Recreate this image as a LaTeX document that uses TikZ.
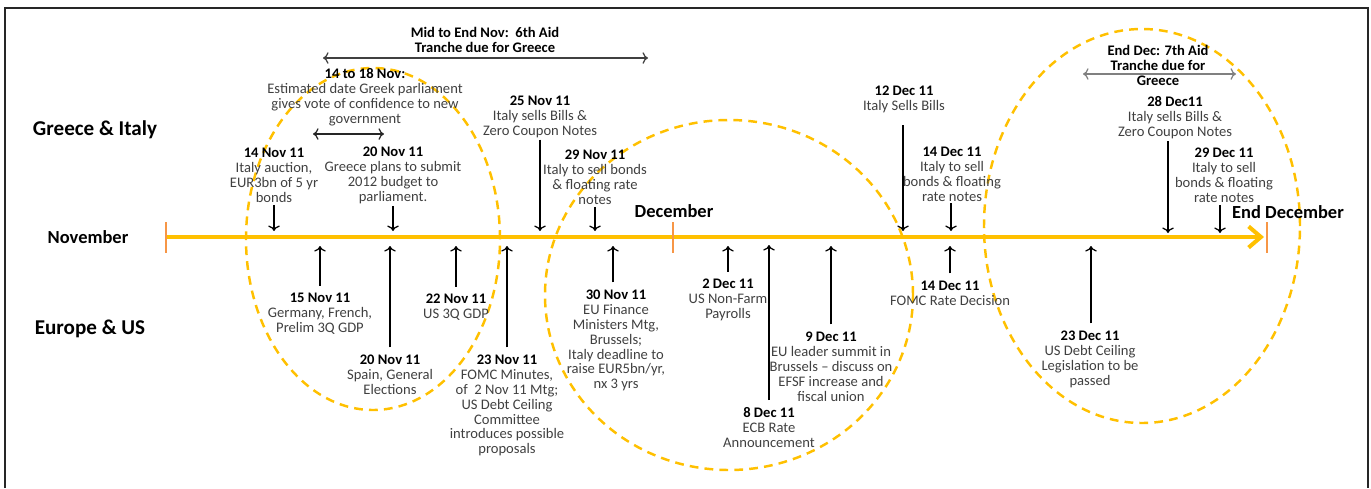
\documentclass[tikz,border=0pt]{standalone}
\usepackage{fontspec}
\setmainfont{Carlito}
\usetikzlibrary{arrows.meta}

\definecolor{tlyellow}{HTML}{FFC000}
\definecolor{tlorange}{HTML}{F79646}
\newcommand{\evfont}{\fontsize{8.3}{8.5}\selectfont}
\newcommand{\evday}[1]{\textcolor{black}{\textbf{#1}}}

\tikzset{
  evt/.style={align=center,font=\evfont,text=black!75,inner sep=1pt},
  aid/.style={align=center,font=\evfont\bfseries,inner sep=1pt},
  hdr/.style={font=\fontsize{12}{14}\selectfont\bfseries},
  mon/.style={font=\fontsize{10.5}{12}\selectfont\bfseries},
  evarrow/.style={->,line width=0.7pt},
  uparrow/.style={->,line width=0.7pt,shorten <=3pt},
  span/.style={<->,line width=0.7pt},
  zone/.style={draw=tlyellow,line width=1.4pt,dash pattern=on 5pt off 3.5pt},
  tick/.style={draw=tlorange,line width=1.1pt},
}

\begin{document}
\begin{tikzpicture}[x=0.2mm,y=-0.2mm]
\useasboundingbox (0,0) rectangle (1371,488);
\draw [line width=1.1pt,black!85] (5,488) -- (5,8) -- (1368,8) -- (1368,488);

% dashed zones
\draw [zone] (373,239)  ellipse [x radius=25.4mm, y radius=34.2mm];
\draw [zone] (729,295)  ellipse [x radius=36.8mm, y radius=35mm];
\draw [zone] (1142,226) ellipse [x radius=31.6mm, y radius=39.4mm];

% timeline
\coordinate (tl0) at (166,237);
\coordinate (tl1) at (1264,237);
\draw [draw=tlyellow,line width=2.3pt,-{Straight Barb[length=7pt,width=12pt]}] (tl0) -- (tl1);
\foreach \x in {166,673,1267}
  \draw [tick] (\x,222) -- (\x,253);

% row titles
\node (greece)   at (95,130)   [hdr] {Greece \& Italy};
\node (novem)    at (88,237)   [mon] {November};
\node (europe)   at (90,329)   [hdr] {Europe \& US};
\node (decem)    at (674,211)  [mon] {December};
\node (enddecem) at (1288,212) [mon] {End December};

% aid tranches
\node (aid6) at (485,40)    [aid] {Mid to End Nov:~~6th Aid\\Tranche due for Greece};
\node (aid7) at (1158,65.5) [aid] {End Dec: 7th Aid\\Tranche due for\\Greece};
\coordinate (aid6l) at (323,58);
\coordinate (aid6r) at (648,58);
\coordinate (aid7l) at (1083,74);
\coordinate (aid7r) at (1236,74);
\draw [span,black!75] (aid6l) -- (aid6r);
\draw [span,black!50] (aid7l) -- (aid7r);

\node (vote) at (365,97) [evt] {\evday{14 to 18 Nov:}\\Estimated date Greek parliament\\gives vote of confidence to new\\government};
\coordinate (votel) at (313,134);
\coordinate (voter) at (384,134);
\draw [span,black!85] (votel) -- (voter);

% Greece & Italy events
\node (g14n) at (274,175.5) [evt] {\evday{14 Nov 11}\\Italy auction,\\EUR3bn of 5 yr\\bonds};
\node (g20n) at (393,175.5) [evt] {\evday{20 Nov 11}\\Greece plans to submit\\2012 budget to\\parliament.};
\node (g25n) at (540,116.5) [evt] {\evday{25 Nov 11}\\Italy sells Bills \&\\Zero Coupon Notes};
\node (g29n) at (595,177.5) [evt] {\evday{29 Nov 11}\\Italy to sell bonds\\\& floating rate\\notes};
\node (g12d) at (904,99)    [evt] {\evday{12 Dec 11}\\Italy Sells Bills};
\node (g14d) at (952,174)   [evt] {\evday{14 Dec 11}\\Italy to sell\\bonds \& floating\\rate notes};
\node (g28d) at (1175,118)  [evt] {\evday{28 Dec11}\\Italy sells Bills \&\\Zero Coupon Notes};
\node (g29d) at (1224,175.5) [evt] {\evday{29 Dec 11}\\Italy to sell\\bonds \& floating\\rate notes};

\coordinate (t14n) at (274,231);
\coordinate (t20n) at (393,231);
\coordinate (t25n) at (540,231);
\coordinate (t29n) at (595,231);
\coordinate (t12d) at (903,231);
\coordinate (t14d) at (951,231);
\coordinate (t28d) at (1168,233);
\coordinate (t29d) at (1220,233);

\draw [evarrow] (g14n) -- (t14n);
\draw [evarrow] (g20n) -- (t20n);
\draw [evarrow] (g25n) -- (t25n);
\draw [evarrow] (g29n) -- (t29n);
\draw [evarrow,shorten <=6pt] (g12d.south -| t12d) -- (t12d);
\draw [evarrow] (g14d.south -| t14d) -- (t14d);
\draw [evarrow] (g28d.south -| t28d) -- (t28d);
\draw [evarrow] (g29d.south -| t29d) -- (t29d);

% Europe & US events
\node (e15n) at (320,314)   [evt] {\evday{15 Nov 11}\\Germany, French,\\Prelim 3Q GDP};
\node (e20n) at (390,374.5) [evt] {\evday{20 Nov 11}\\Spain, General\\Elections};
\node (e22n) at (456,307.5) [evt] {\evday{22 Nov 11}\\US 3Q GDP};
\node (e23n) at (507,405.5) [evt] {\evday{23 Nov 11}\\FOMC Minutes,\\of~~2 Nov 11 Mtg;\\US Debt Ceiling\\Committee\\introduces possible\\proposals};
\node (e30n) at (616,340.5) [evt] {\evday{30 Nov 11}\\EU Finance\\Ministers Mtg,\\Brussels;\\Italy deadline to\\raise EUR5bn/yr,\\nx 3 yrs};
\node (e2d)  at (728,300)   [evt] {\evday{2 Dec 11}\\US Non-Farm\\Payrolls};
\node (e8d)  at (769,427.5) [evt] {\evday{8 Dec 11}\\ECB Rate\\Announcement};
\node (e9d)  at (831,366.5) [evt] {\evday{9 Dec 11}\\EU leader summit in\\Brussels -- discuss on\\EFSF increase and\\fiscal union};
\node (e14d) at (950,293)   [evt] {\evday{14 Dec 11}\\FOMC Rate Decision};
\node (e23d) at (1090,359)  [evt] {\evday{23 Dec 11}\\US Debt Ceiling\\Legislation to be\\passed};

\coordinate (u15n) at (320,246);
\coordinate (u20n) at (390,246);
\coordinate (u22n) at (456,246);
\coordinate (u23n) at (507,246);
\coordinate (u30n) at (613,246);
\coordinate (u2d)  at (728,246);
\coordinate (u8d)  at (769,245);
\coordinate (u9d)  at (831,246);
\coordinate (u14d) at (950,246);
\coordinate (u23d) at (1091,246);

\draw [uparrow] (e15n.north -| u15n) -- (u15n);
\draw [uparrow] (e20n.north -| u20n) -- (u20n);
\draw [uparrow] (e22n.north -| u22n) -- (u22n);
\draw [uparrow] (e23n.north -| u23n) -- (u23n);
\draw [uparrow] (e30n.north -| u30n) -- (u30n);
\draw [uparrow] (e2d.north -| u2d)   -- (u2d);
\draw [uparrow] (e8d.north -| u8d)   -- (u8d);
\draw [uparrow] (e9d.north -| u9d)   -- (u9d);
\draw [uparrow] (e14d.north -| u14d) -- (u14d);
\draw [uparrow] (e23d.north -| u23d) -- (u23d);
\end{tikzpicture}
\end{document}
